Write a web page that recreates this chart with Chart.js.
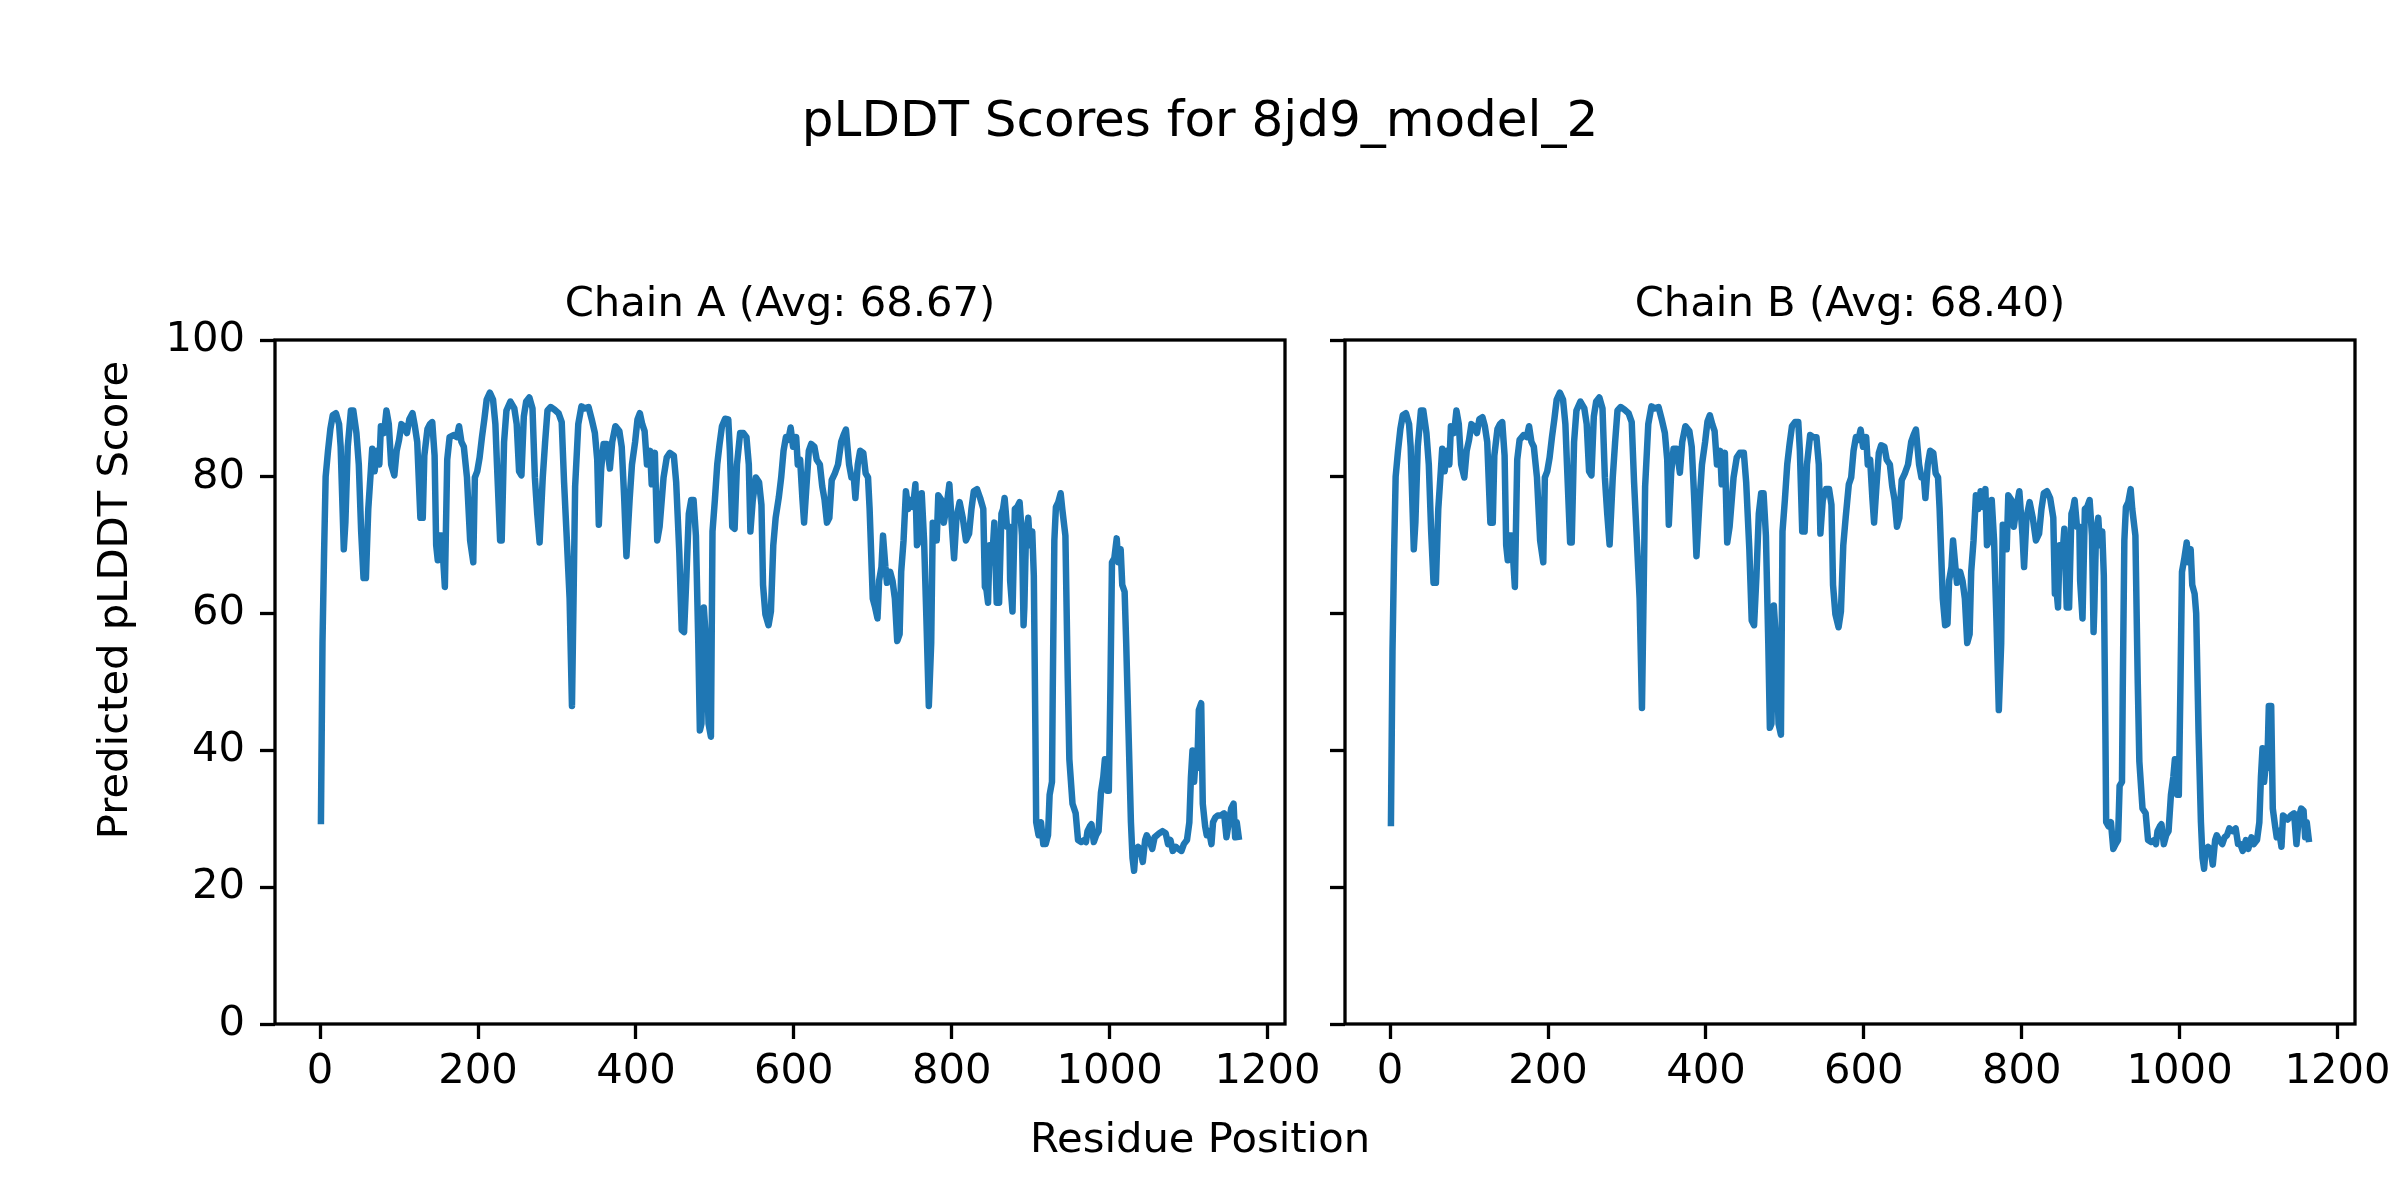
<!DOCTYPE html>
<html>
<head>
<meta charset="utf-8">
<script src="https://cdn.jsdelivr.net/npm/chart.js@4.4.1/dist/chart.umd.min.js"></script>
<style>
  html, body { margin: 0; padding: 0; background: #fff; overflow: hidden; }
  body { width: 2400px; height: 1200px; position: relative; }
  canvas { position: absolute; top: 0; }
</style>
</head>
<body>
<canvas id="labels" width="2400" height="1200" style="left:0"></canvas>
<canvas id="chainA" width="1400" height="1100" style="left:0"></canvas>
<canvas id="chainB" width="1250" height="1100" style="left:1200px"></canvas>
<script>
// residue positions (shared by both chains)
const residues = [
  1, 3, 5, 7, 10, 13, 16, 20, 24, 26,
  30, 32, 35, 39, 42, 46, 49, 52, 55, 58,
  61, 64, 66, 69, 72, 75, 77, 81, 84, 87,
  90, 94, 97, 100, 103, 106, 110, 113, 117, 120,
  123, 127, 130, 132, 136, 139, 142, 145, 147, 149,
  151, 154, 158, 161, 164, 169, 173, 176, 179, 182,
  186, 190, 194, 196, 199, 202, 205, 208, 211, 215,
  219, 222, 224, 228, 230, 233, 236, 241, 246, 249,
  252, 255, 258, 261, 265, 269, 272, 275, 278, 282,
  285, 288, 292, 297, 302, 306, 309, 312, 316, 319,
  321, 323, 327, 331, 335, 340, 344, 348, 351, 353,
  356, 359, 363, 367, 370, 374, 379, 382, 385, 388,
  392, 395, 399, 402, 405, 408, 411, 414, 418, 420,
  424, 427, 430, 435, 439, 443, 448, 451, 455, 458,
  461, 464, 467, 470, 473, 476, 479, 481, 483, 486,
  489, 492, 495, 497, 500, 503, 506, 509, 513, 517,
  519, 522, 525, 528, 532, 536, 540, 543, 545, 548,
  552, 556, 559, 561, 564, 568, 571, 574, 577, 581,
  584, 587, 590, 593, 596, 599, 603, 605, 608, 611,
  613, 616, 619, 622, 626, 629, 633, 636, 639, 642,
  645, 648, 652, 656, 660, 663, 666, 670, 673, 676,
  678, 681, 684, 688, 691, 694, 696, 700, 703, 706,
  708, 711, 713, 716, 718, 722, 725, 728, 731, 734,
  736, 739, 742, 745, 748, 751, 754, 756, 759, 762,
  765, 768, 771, 774, 776, 781, 783, 787, 790, 793,
  797, 801, 803, 806, 810, 814, 818, 822, 825, 828,
  832, 836, 840, 842, 844, 846, 848, 851, 854, 857,
  860, 863, 865, 867, 870, 873, 874, 877, 880, 883,
  886, 889, 891, 892, 894, 897, 899, 902, 904, 906,
  907, 910, 913, 916, 919, 922, 924, 927, 928, 930,
  932, 935, 938, 940, 944, 947, 949, 953, 957, 960,
  964, 968, 970, 972, 975, 977, 980, 983, 986, 989,
  992, 994, 997, 999, 1001, 1003, 1006, 1009, 1011, 1014,
  1016, 1019, 1021, 1024, 1027, 1029, 1031, 1033, 1036, 1039,
  1042, 1045, 1047, 1050, 1054, 1057, 1060, 1063, 1067, 1071,
  1074, 1077, 1080, 1084, 1087, 1091, 1094, 1098, 1101, 1103,
  1105, 1107, 1109, 1111, 1113, 1116, 1118, 1121, 1123, 1126,
  1129, 1131, 1134, 1137, 1141, 1145, 1148, 1151, 1154, 1157,
  1159, 1161, 1164
];

const scoresA = [
  29.2, 55.7, 68.8, 80, 83.8, 87, 89, 89.3, 87.7, 84.4,
  69.4, 73.3, 84.4, 89.7, 89.7, 86.4, 81.8, 72, 65.2, 65.2,
  75.3, 80.5, 84.1, 80.8, 83.8, 81.8, 87.4, 86.4, 89.7, 87.7,
  81.8, 80.2, 83.8, 85.4, 87.7, 87.4, 86.4, 88.4, 89.3, 87.4,
  85.1, 74, 74, 83.1, 87, 87.7, 88, 83.1, 70, 67.8,
  71.4, 71.4, 63.9, 82.5, 85.8, 86.1, 85.8, 87.4, 85.1, 84.4,
  79.9, 70.7, 67.5, 79.9, 80.8, 82.8, 85.8, 88.4, 91.3, 92.3,
  91.3, 87.7, 81.8, 70.7, 70.7, 85.1, 89.7, 91, 90, 87.7,
  80.8, 80.2, 88.8, 91, 91.6, 90, 79.9, 74.6, 70.4, 79.9,
  85.1, 89.7, 90.2, 89.8, 89.3, 88, 79.2, 72, 62.2, 46.5,
  62.2, 78.6, 87.7, 90.3, 90, 90.2, 88.4, 86.4, 82.5, 73,
  81.2, 84.8, 84.8, 81.2, 85.1, 87.4, 86.7, 84.4, 77.3, 68.4,
  76.6, 81.8, 85.1, 88.4, 89.3, 87.7, 86.7, 81.8, 83.8, 78.9,
  83.5, 70.7, 72.7, 79.9, 82.8, 83.5, 83.1, 79.2, 68.8, 57.6,
  57.3, 65.5, 74.6, 76.6, 76.6, 71.4, 55.7, 42.9, 43.9, 60.9,
  55.7, 43.9, 42, 72, 76.6, 81.8, 84.8, 87.4, 88.5, 88.4,
  83.8, 72.7, 72.4, 81.8, 86.4, 86.4, 85.8, 81.8, 72, 76.6,
  79.9, 79.2, 75.9, 64.2, 59.9, 58.3, 60.3, 70, 74, 77,
  79.9, 83.8, 85.8, 85.4, 87.2, 84.4, 85.8, 81.8, 82.5, 76.6,
  73.3, 78.6, 83.8, 84.8, 84.4, 82.5, 81.8, 78.6, 76.6, 73.3,
  74, 79.5, 80.5, 81.8, 85.1, 86.1, 86.9, 81.8, 79.9, 79.9,
  76.9, 81.8, 83.8, 83.5, 80.5, 79.9, 75.3, 62.2, 60.9, 59.3,
  64.8, 66.8, 71.4, 66.8, 64.5, 66.1, 64.8, 62.2, 56, 57,
  66.1, 70.7, 77.9, 75.3, 76.6, 75.6, 78.9, 70, 70.7, 77.6,
  70.7, 59, 46.5, 55.7, 73.3, 70.7, 77.3, 76.6, 73.3, 75.3,
  78.9, 71.4, 68.1, 74, 76.3, 74, 70.7, 71.7, 75.3, 77.9,
  78.2, 76.9, 75.3, 63.9, 63.5, 61.6, 70, 67.5, 73.3, 61.6,
  61.6, 74.6, 75.3, 76.9, 72.7, 72.7, 64.8, 60.3, 75.3, 75.6,
  76.3, 71.4, 58.3, 60.9, 71.4, 74, 70, 72, 65.5, 42.6,
  29.5, 27.6, 29.5, 26.3, 26.3, 27.6, 33.5, 35.4, 49.2, 70.7,
  75.6, 76.3, 77.6, 75.3, 71.4, 50.5, 38.7, 32.2, 30.8, 26.9,
  26.6, 26.9, 26.6, 28.2, 28.9, 29.2, 26.6, 27.6, 28.2, 33.8,
  36.1, 38.7, 34.1, 34.1, 49.2, 67.5, 68.1, 71, 67.5, 69.4,
  64.2, 63.2, 55.7, 42.6, 29.5, 24.3, 22.4, 25.6, 25.9, 25.6,
  23.7, 26.9, 27.6, 26.9, 25.6, 27.3, 27.6, 27.9, 28.2, 27.9,
  26.3, 26.9, 25.3, 25.9, 25.6, 25.3, 26.3, 26.9, 29.5, 36.1,
  40, 35.4, 38.7, 37.4, 45.9, 46.9, 32.2, 28.9, 27.6, 28.2,
  26.3, 29.5, 30.2, 30.5, 30.5, 30.8, 27.3, 29.5, 31.5, 32.2,
  27.3, 29.5, 26.9
];

const scoresB = [
  28.9, 54.4, 68.5, 80, 83.8, 87, 89, 89.3, 87.7, 84.4,
  69.4, 73.3, 84.4, 89.7, 89.7, 86.4, 81.8, 72, 64.5, 64.5,
  75.3, 80.5, 84.1, 80.8, 83.8, 81.8, 87.4, 86.4, 89.7, 87.7,
  81.8, 79.9, 83.8, 85.4, 87.7, 87.4, 86.4, 88.4, 88.7, 87.4,
  85.1, 73.3, 73.3, 83.1, 87, 87.7, 88, 83.1, 70, 67.8,
  71.4, 71.4, 63.9, 82.5, 85.4, 86.1, 85.8, 87.4, 85.1, 84.4,
  79.9, 70.7, 67.5, 79.9, 80.8, 82.8, 85.8, 88.4, 91.3, 92.3,
  91.3, 87.7, 81.8, 70.4, 70.4, 85.1, 89.7, 91, 90, 87.7,
  80.8, 80.2, 88.8, 91, 91.6, 90, 79.9, 74.6, 70.1, 79.9,
  85.1, 89.7, 90.2, 89.8, 89.3, 88, 79.2, 72, 62.2, 46.2,
  62.2, 78.6, 87.7, 90.3, 90, 90.2, 88.4, 86.4, 82.5, 73,
  80.6, 84.1, 84.1, 80.6, 85.1, 87.4, 86.7, 84.4, 77.3, 68.4,
  76.6, 81.8, 85.1, 88.1, 89, 87.7, 86.7, 81.8, 83.8, 78.9,
  83.5, 70.4, 72.7, 79.9, 82.8, 83.5, 83.5, 79.2, 69.4, 59,
  58.3, 65.5, 74.6, 77.6, 77.6, 71.4, 55.7, 43.3, 43.9, 61.2,
  55.7, 43.9, 42.3, 72, 76.6, 81.8, 84.8, 87.4, 88, 88,
  83.8, 72, 72, 81.8, 86.1, 85.8, 85.8, 81.8, 71.7, 76.6,
  78.2, 78.2, 75.9, 64.2, 59.9, 58, 60.3, 70, 74, 78.9,
  79.9, 83.8, 85.8, 85.4, 86.9, 84.4, 85.8, 81.8, 82.5, 76.6,
  73.3, 78.6, 83.5, 84.6, 84.4, 82.5, 81.8, 78.6, 76.6, 72.7,
  74, 79.5, 80.5, 81.8, 85.1, 86.1, 86.9, 81.8, 79.9, 79.9,
  76.9, 81.8, 83.8, 83.5, 80.5, 79.9, 75.3, 62.2, 58.3, 58.5,
  64.8, 66.8, 70.7, 66.8, 64.5, 66.1, 64.8, 62.2, 55.7, 57,
  66.1, 70.7, 77.3, 75.3, 77.9, 75.6, 78.2, 70, 70.7, 76.6,
  70.7, 59, 45.9, 55.7, 73, 69.4, 77.3, 76.6, 72.7, 75.3,
  77.9, 71.4, 66.8, 74, 76.3, 74, 70.7, 71.7, 75.3, 77.6,
  77.9, 76.9, 74, 62.9, 63.5, 60.9, 70, 67.5, 72.4, 60.9,
  60.9, 74.6, 75.3, 76.6, 72.7, 72.7, 64.8, 59.3, 75.3, 75.6,
  76.6, 71.4, 57.3, 60.9, 71.4, 74, 70, 72, 65.5, 42.6,
  29.5, 28.9, 29.5, 25.6, 26.3, 26.9, 34.8, 35.4, 49.2, 70.7,
  75.6, 76.3, 78.2, 75.3, 71.4, 49.8, 38.4, 31.5, 30.8, 26.9,
  26.6, 26.9, 26.3, 28.2, 28.9, 29.2, 26.3, 27.6, 28.2, 33.5,
  36.1, 38.7, 33.5, 33.5, 49.2, 66.1, 68.1, 70.4, 67.5, 69.4,
  64.2, 62.9, 60, 42.6, 29.5, 24.3, 22.7, 25.6, 25.9, 25.6,
  23.3, 26.9, 27.6, 26.9, 26.3, 27.3, 27.6, 28.6, 28.2, 28.6,
  26.3, 26.3, 25.3, 26.9, 25.6, 27.3, 26.3, 26.9, 29.5, 36.1,
  40.3, 35.4, 37.7, 37.4, 46.5, 46.5, 31.5, 28.9, 27.3, 28.2,
  25.9, 30.5, 30.2, 29.9, 30.5, 30.8, 26.3, 30.2, 31.5, 31.2,
  27.3, 29.5, 26.6
];

const xTicks = [0, 200, 400, 600, 800, 1000, 1200];
const yTicks = [0, 20, 40, 60, 80, 100];

const figTitle = "pLDDT Scores for 8jd9_model_2";
const chainTitles = ["Chain A (Avg: 68.67)", "Chain B (Avg: 68.40)"];
const xLabel = "Residue Position";
const yLabel = "Predicted pLDDT Score";

const FONT = "DejaVu Sans";
Chart.defaults.font.family = FONT;

// matplotlib style 5% margin on x
const span = residues[residues.length - 1] - residues[0];
const xMin = residues[0] - 0.05 * span;
const xMax = residues[residues.length - 1] + 0.05 * span;

// box around the plot area (all four spines)
const frame = {
  id: "frame",
  afterDatasetsDraw(chart) {
    const { ctx, chartArea: a } = chart;
    ctx.save();
    ctx.strokeStyle = "#000";
    ctx.lineWidth = 3.3;
    ctx.strokeRect(a.left, a.top, a.right - a.left, a.bottom - a.top);
    ctx.restore();
  }
};

const tickGrid = {
  display: true,
  drawOnChartArea: false,
  drawTicks: true,
  tickLength: 15,
  tickWidth: 3.3,
  tickColor: "#000",
  color: "#000"
};
const tickFont = { family: FONT, size: 41.7 };

function makeChart(id, scores, yAxisWidth, rightPad, showYLabels) {
  const points = residues.map((r, i) => ({ x: r, y: scores[i] }));
  return new Chart(document.getElementById(id), {
    type: "line",
    data: {
      datasets: [{
        data: points,
        borderColor: "#1f77b4",
        borderWidth: 6.5,
        borderJoinStyle: "round",
        borderCapStyle: "butt",
        pointRadius: 0,
        tension: 0,
        fill: false
      }]
    },
    options: {
      responsive: false,
      animation: false,
      devicePixelRatio: 1,
      layout: { padding: { left: 0, top: 340, right: rightPad, bottom: 0 } },
      plugins: { legend: { display: false }, tooltip: { enabled: false } },
      scales: {
        x: {
          type: "linear",
          min: xMin,
          max: xMax,
          afterBuildTicks: (s) => { s.ticks = xTicks.map((v) => ({ value: v })); },
          afterFit: (s) => { s.height = 76; },
          grid: tickGrid,
          border: { display: false },
          ticks: {
            padding: 8, font: tickFont, color: "#000",
            maxRotation: 0, autoSkip: false,
            callback: (v) => String(v)
          }
        },
        y: {
          min: 0,
          max: 100,
          afterBuildTicks: (s) => { s.ticks = yTicks.map((v) => ({ value: v })); },
          afterFit: (s) => { s.width = yAxisWidth; },
          grid: tickGrid,
          border: { display: false },
          ticks: {
            padding: 15, font: tickFont, color: "#000", autoSkip: false,
            callback: (v) => (showYLabels ? String(v) : "")
          }
        }
      }
    },
    plugins: [frame]
  });
}

makeChart("chainA", scoresA, 275, 115, true);
makeChart("chainB", scoresB, 145, 95, false);

// figure texts
const lc = document.getElementById("labels").getContext("2d");
lc.fillStyle = "#000";
lc.textAlign = "center";
lc.textBaseline = "alphabetic";
lc.font = `50px "${FONT}"`;
lc.fillText(figTitle, 1200, 136);
lc.font = `41.7px "${FONT}"`;
lc.fillText(chainTitles[0], 780, 316);
lc.fillText(chainTitles[1], 1850, 316);
lc.fillText(xLabel, 1200, 1152);
lc.save();
lc.translate(127, 600);
lc.rotate(-Math.PI / 2);
lc.fillText(yLabel, 0, 0);
lc.restore();
</script>
</body>
</html>
